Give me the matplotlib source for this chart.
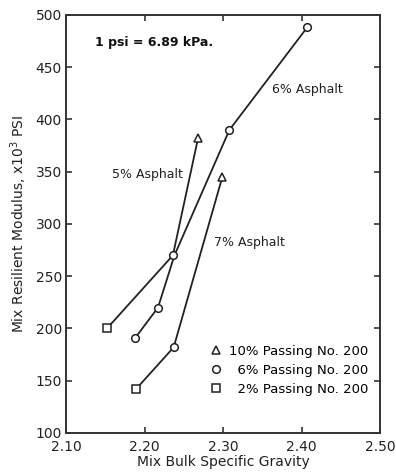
import matplotlib
matplotlib.use("Agg")
import matplotlib.pyplot as plt
from matplotlib.lines import Line2D

# Asphalt content curves (bulk specific gravity vs resilient modulus, x10^3 psi)
ASPH5_SG = [2.152, 2.236, 2.268]
ASPH5_MR = [200, 270, 382]
ASPH5_MK = ["s", "o", "^"]

ASPH6_SG = [2.188, 2.217, 2.238, 2.308, 2.407]
ASPH6_MR = [191, 220, 270, 390, 488]
ASPH6_MK = ["o", "o", None, "o", "o"]

ASPH7_SG = [2.189, 2.237, 2.299]
ASPH7_MR = [142, 182, 345]
ASPH7_MK = ["s", "o", "^"]

LEGEND_LABELS = ["10% Passing No. 200", "  6% Passing No. 200", "  2% Passing No. 200"]
LEGEND_MARKERS = ["^", "o", "s"]

plt.rcParams["font.family"] = "DejaVu Sans"

fig = plt.figure(figsize=(3.96, 4.74), dpi=100)
ax = fig.add_axes([0.167, 0.0865, 0.793, 0.882])

def draw_curve(xs, ys, marks):
    ax.plot(xs, ys, color="#222", lw=1.3, zorder=2)
    for x, y, m in zip(xs, ys, marks):
        if m:
            ax.plot(x, y, marker=m, ms=5.5, mfc="white", mec="#222", mew=1.1,
                    ls="none", zorder=3)

draw_curve(ASPH5_SG, ASPH5_MR, ASPH5_MK)
draw_curve(ASPH6_SG, ASPH6_MR, ASPH6_MK)
draw_curve(ASPH7_SG, ASPH7_MR, ASPH7_MK)

ax.set_xlim(2.10, 2.50)
ax.set_ylim(100, 500)
ax.set_xticks([2.10, 2.20, 2.30, 2.40, 2.50])
ax.set_xticklabels(["2.10", "2.20", "2.30", "2.40", "2.50"])
ax.set_yticks(range(100, 501, 50))
ax.tick_params(direction="in", top=True, right=True, length=4, width=1.1,
               labelsize=10, colors="#222")
ax.tick_params(axis="x", pad=5)
ax.tick_params(axis="y", pad=3)
for s in ax.spines.values():
    s.set_linewidth(1.4)
    s.set_color("#333")

ax.set_xlabel("Mix Bulk Specific Gravity", fontsize=10, color="#222", labelpad=1)
ax.set_ylabel("Mix Resilient Modulus, x10$^3$ PSI", fontsize=10, color="#222", labelpad=5)

ax.text(2.204, 347, "5% Asphalt", fontsize=9, ha="center", va="center", color="#222")
ax.text(2.407, 429, "6% Asphalt", fontsize=9, ha="center", va="center", color="#222")
ax.text(2.334, 282, "7% Asphalt", fontsize=9, ha="center", va="center", color="#222")
ax.text(2.137, 474, "1 psi = 6.89 kPa.", fontsize=9, fontweight="bold",
        ha="left", va="center", color="#111")

handles = [Line2D([], [], marker=m, ls="none", ms=5.5, mfc="white", mec="#222", mew=1.1)
           for m in LEGEND_MARKERS]
ax.legend(handles, LEGEND_LABELS, loc="lower right", bbox_to_anchor=(0.985, 0.073),
          frameon=False, fontsize=9.5, handlelength=0.8, handletextpad=0.6,
          labelspacing=0.45, borderpad=0)

fig.savefig("out.png", dpi=100)
